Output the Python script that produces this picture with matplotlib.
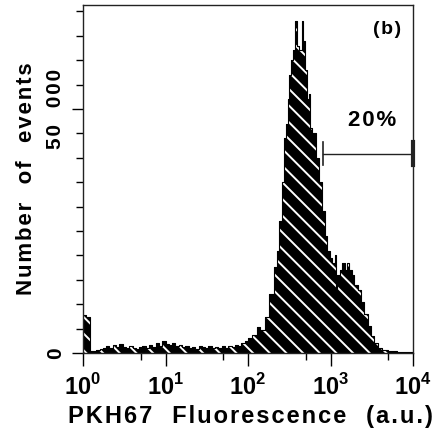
import numpy as np
import matplotlib
matplotlib.use("Agg")
import matplotlib.pyplot as plt
from matplotlib.ticker import FixedLocator

plt.rcParams['font.family'] = ['Liberation Sans', 'DejaVu Sans']
plt.rcParams['font.weight'] = 'bold'
plt.rcParams['mathtext.fontset'] = 'custom'
plt.rcParams['mathtext.rm'] = 'Liberation Sans:bold'
plt.rcParams['mathtext.bf'] = 'Liberation Sans:bold'
plt.rcParams['hatch.color'] = 'white'
plt.rcParams['hatch.linewidth'] = 1.4

# histogram: log10(fluorescence) and events (x1000)
log_fl = [0.00, 0.04, 0.08, 0.12, 0.16, 0.20, 0.24, 0.28, 0.32, 0.36, 0.40,
          0.44, 0.48, 0.52, 0.56, 0.60, 0.64, 0.68, 0.72, 0.76, 0.80, 0.84,
          0.88, 0.92, 0.96, 1.00, 1.04, 1.08, 1.12, 1.16, 1.20, 1.24, 1.28,
          1.32, 1.36, 1.40, 1.44, 1.48, 1.52, 1.56, 1.60, 1.64, 1.68, 1.72,
          1.76, 1.80, 1.84, 1.88, 1.92, 1.96, 2.00, 2.05, 2.11, 2.15, 2.20,
          2.26, 2.32, 2.35, 2.38, 2.41, 2.44, 2.46, 2.48, 2.50, 2.52, 2.55,
          2.575, 2.59, 2.62, 2.65, 2.665, 2.69, 2.71, 2.74, 2.755, 2.78, 2.82,
          2.86, 2.90, 2.93, 2.96, 2.99, 3.02, 3.05, 3.065, 3.08, 3.11, 3.14,
          3.17, 3.20, 3.23, 3.26, 3.29, 3.33, 3.37, 3.41, 3.45, 3.49, 3.53,
          3.57, 3.62, 3.70, 3.80, 3.90, 4.00]
events = [7.8, 7.4, 0.5, 0.4, 0.6, 0.9, 1.1, 1.4, 1.0, 1.6, 1.2,
          1.9, 1.3, 1.1, 1.5, 1.0, 0.8, 1.2, 1.4, 1.1, 1.6, 1.3,
          2.0, 1.5, 2.5, 1.8, 1.6, 2.0, 1.4, 1.7, 1.2, 1.5, 1.1,
          1.3, 0.9, 1.4, 1.2, 1.0, 1.5, 1.1, 1.3, 1.0, 1.4, 1.1,
          1.5, 1.3, 1.7, 1.4, 2.0, 2.4, 3.0, 3.6, 5.3, 4.8, 7.4,
          12.0, 17.6, 21.0, 27.0, 35.0, 44.0, 47.0, 52.0, 57.0, 60.0, 62.0,
          68.0, 63.0, 62.0, 68.0, 64.0, 58.0, 52.0, 53.0, 46.0, 45.0, 40.0,
          35.0, 29.0, 24.0, 21.0, 19.5, 18.5, 20.0, 12.0, 16.0, 17.0, 18.5,
          17.0, 18.5, 17.0, 16.0, 14.0, 13.0, 10.5, 8.0, 5.5, 3.5, 2.0,
          1.0, 0.6, 0.4, 0.3, 0.3, 0.3]

x_ticks = [1, 10, 100, 1000, 10000]
x_labels = [r'$10^{0}$', r'$10^{1}$', r'$10^{2}$', r'$10^{3}$', r'$10^{4}$']
x_minor = [5, 50, 500, 5000]
y_ticks = [0, 50]
y_labels = ['0', '50  000']
y_minor = list(range(5, 75, 5))

gate_lo, gate_hi, gate_y = 813, 10000, 40.8


def spaced(s):
    # the original lettering is widely tracked
    return '\u200a'.join(s)


fl = 10 ** np.array(log_fl)
ev = np.array(events)

fig = plt.figure(figsize=(4.42, 4.37), dpi=100)
ax = fig.add_axes([83 / 442, 84 / 437, 330 / 442, 348 / 437])

ax.fill_between(fl, 0, ev, step='post', facecolor='black', linewidth=0)
ax.fill_between(fl, 0, ev, step='post', facecolor='none', edgecolor='white',
                hatch='\\\\', linewidth=0)
ax.step(fl, ev, where='post', color='black', lw=0.8)

ax.set_xscale('log')
ax.set_xlim(1, 10000)
ax.set_ylim(0, 71.3)

ax.xaxis.set_major_locator(FixedLocator(x_ticks))
ax.xaxis.set_minor_locator(FixedLocator(x_minor))
ax.set_xticklabels(x_labels, fontsize=17)
ax.yaxis.set_major_locator(FixedLocator(y_ticks))
ax.yaxis.set_minor_locator(FixedLocator(y_minor))
ax.set_yticklabels([spaced(t) for t in y_labels], fontsize=15, rotation=90,
                   va='center')

ax.tick_params(axis='x', which='major', length=9, width=1, pad=6, direction='out')
ax.tick_params(axis='x', which='minor', length=5, width=1, direction='out')
ax.tick_params(axis='y', which='major', length=8, width=1, pad=5, direction='out')
ax.tick_params(axis='y', which='minor', length=5, width=1, direction='out')

for s in ax.spines.values():
    s.set_linewidth(1)
    s.set_color('#222222')

ax.set_xlabel(spaced('PKH67') + '   ' + spaced('Fluorescence') + '   ' + spaced('(a.u.)'),
              fontsize=17, fontweight='bold')
ax.xaxis.set_label_coords(0.506, -0.15)
ax.set_ylabel(spaced('Number') + '   ' + spaced('of') + '   ' + spaced('events'),
              fontsize=16, fontweight='bold')
ax.yaxis.set_label_coords(-0.14, 0.5)

# gate marker
ax.plot([gate_lo, gate_hi], [gate_y, gate_y], color='#222222', lw=1)
ax.plot([gate_lo, gate_lo], [38.5, 43.2], color='#222222', lw=1.2)
ax.plot([gate_hi, gate_hi], [38.5, 43.2], color='#222222', lw=3, clip_on=False)
ax.text(10 ** 3.51, 47.7, spaced('20%'), fontsize=16, fontweight='bold',
        ha='center', va='center')
ax.text(10 ** 3.68, 66.2, spaced('(b)'), fontsize=14, fontweight='bold',
        ha='center', va='center')

fig.savefig('out.png', dpi=100)
